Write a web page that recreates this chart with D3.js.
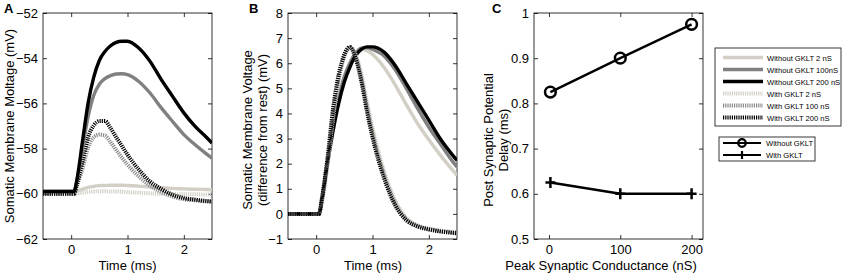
<!DOCTYPE html>
<html>
<head>
<meta charset="utf-8">
<script src="https://cdn.jsdelivr.net/npm/d3@7"></script>
<style>
  body { margin: 0; background: #fff; }
  svg { font-family: "Liberation Sans", Arial, sans-serif; }
  .tick text { font-size: 13px; fill: #000; }
  .tick line { stroke: #000; stroke-width: 0.8; }
  .domain { display: none; }
  .frame { fill: none; stroke: #000; stroke-width: 0.8; }
  .lbl { font-size: 13px; fill: #000; }
  .leg { font-size: 7.6px; fill: #000; }
</style>
</head>
<body>
<div id="chart"></div>
<script>

// time samples (ms), shared by panels A and B
var times = [-0.5, 0, 0.05, 0.1, 0.2, 0.3, 0.4, 0.5, 0.6, 0.7, 0.8, 0.9, 1.0, 1.2, 1.4, 1.6, 1.8, 2.0, 2.2, 2.4, 2.5];

// panel A - somatic membrane voltage (mV)
var aWithout2   = [-59.9, -59.9, -59.9, -59.88, -59.8, -59.72, -59.67, -59.64, -59.63, -59.62, -59.62, -59.62, -59.63, -59.66, -59.7, -59.73, -59.76, -59.78, -59.8, -59.81, -59.82];
var aWithout100 = [-59.9, -59.9, -59.9, -59.45, -58.0, -56.6, -55.65, -55.15, -54.9, -54.77, -54.7, -54.69, -54.73, -55.03, -55.54, -56.2, -56.8, -57.38, -57.83, -58.23, -58.42];
var aWithout200 = [-59.9, -59.9, -59.9, -59.4, -57.7, -56.0, -54.85, -54.1, -53.7, -53.45, -53.3, -53.25, -53.25, -53.55, -54.14, -54.95, -55.69, -56.42, -57.02, -57.5, -57.75];
var aWith2      = [-60, -60, -60, -59.99, -59.95, -59.92, -59.9, -59.89, -59.89, -59.9, -59.9, -59.91, -59.93, -59.95, -59.98, -60.0, -60.01, -60.02, -60.02, -60.03, -60.03];
var aWith100    = [-60, -60, -60, -59.65, -58.9, -57.95, -57.5, -57.38, -57.42, -57.72, -58.06, -58.4, -58.71, -59.23, -59.64, -59.92, -60.12, -60.24, -60.29, -60.34, -60.35];
var aWith200    = [-60, -60, -60, -59.6, -58.6, -57.5, -56.98, -56.78, -56.78, -57.1, -57.5, -57.88, -58.27, -58.93, -59.45, -59.79, -60.04, -60.19, -60.26, -60.32, -60.34];

// panel B - difference from rest (mV)
var bWithout2   = [0, 0, 0, 0.6, 2.2, 3.6, 4.7, 5.5, 6.05, 6.4, 6.55, 6.5, 6.35, 5.85, 5.15, 4.35, 3.6, 2.95, 2.35, 1.8, 1.53];
var bWithout100 = [0, 0, 0, 0.55, 2.1, 3.5, 4.6, 5.45, 6.0, 6.4, 6.6, 6.62, 6.55, 6.3, 5.75, 5.0, 4.2, 3.45, 2.8, 2.15, 1.87];
var bWithout200 = [0, 0, 0, 0.5, 2.0, 3.3, 4.4, 5.25, 5.85, 6.3, 6.55, 6.65, 6.65, 6.45, 5.92, 5.19, 4.46, 3.73, 3.0, 2.4, 2.13];
var bWith2      = [0, 0, 0, 0.45, 1.9, 3.8, 5.3, 6.25, 6.6, 6.35, 5.6, 4.5, 3.45, 1.75, 0.55, -0.15, -0.45, -0.58, -0.66, -0.71, -0.73];
var bWith100    = [0, 0, 0, 0.5, 2.0, 3.95, 5.4, 6.3, 6.62, 6.3, 5.45, 4.3, 3.25, 1.6, 0.45, -0.2, -0.48, -0.6, -0.68, -0.73, -0.75];
var bWith200    = [0, 0, 0, 0.6, 2.2, 4.2, 5.55, 6.35, 6.65, 6.2, 5.3, 4.1, 3.05, 1.45, 0.35, -0.25, -0.5, -0.62, -0.7, -0.75, -0.77];

// panel C - delay vs conductance
var conductance  = [2, 100, 200];
var delayWithout = [0.825, 0.9, 0.975];
var delayWith    = [0.625, 0.6, 0.6];

var seriesNames = ["Without GKLT 2 nS", "Without GKLT 100nS", "Without GKLT 200 nS",
                   "With GKLT 2 nS", "With GKLT 100 nS", "With GKLT 200 nS"];
var seriesColors = ["#d3cfc7", "#808080", "#000000", "#d3cfc7", "#8a8a8a", "#000000"];
var seriesDotted = [false, false, false, true, true, true];
var delayNames = ["Without GKLT", "With GKLT"];

var timeTicks = [0, 1, 2];
var aTicks = [-62, -60, -58, -56, -54, -52];
var bTicks = [-1, 0, 1, 2, 3, 4, 5, 6, 7, 8];
var cTicksX = [0, 100, 200];
var cTicksY = [0.5, 0.6, 0.7, 0.8, 0.9, 1];

var W = 843, H = 274;
var plotTop = 13, plotBottom = 239;

var svg = d3.select("#chart").append("svg")
    .attr("width", W)
    .attr("height", H);

function styleLine(sel, i) {
    sel.attr("fill", "none")
        .attr("stroke", seriesColors[i])
        .attr("stroke-width", seriesDotted[i] ? 4 : 3.4);
    if (seriesDotted[i]) sel.attr("stroke-dasharray", "1.2,1");
}

// draws frame + inward ticks on all four sides
function panel(id, left, right, x, y, xt, yt, yfmt) {
    var g = svg.append("g");
    g.append("clipPath").attr("id", id)
        .append("rect")
        .attr("x", left).attr("y", plotTop)
        .attr("width", right - left).attr("height", plotBottom - plotTop);

    g.append("g")
        .attr("transform", "translate(0," + plotBottom + ")")
        .call(d3.axisBottom(x).tickValues(xt).tickSize(-4).tickSizeOuter(0).tickPadding(6).tickFormat(d3.format("")));
    g.append("g")
        .attr("transform", "translate(0," + plotTop + ")")
        .call(d3.axisTop(x).tickValues(xt).tickSize(-4).tickSizeOuter(0).tickFormat(""));
    g.append("g")
        .attr("transform", "translate(" + left + ",0)")
        .call(d3.axisLeft(y).tickValues(yt).tickSize(-4).tickSizeOuter(0).tickPadding(5).tickFormat(yfmt));
    g.append("g")
        .attr("transform", "translate(" + right + ",0)")
        .call(d3.axisRight(y).tickValues(yt).tickSize(-4).tickSizeOuter(0).tickFormat(""));

    g.append("rect").attr("class", "frame")
        .attr("x", left).attr("y", plotTop)
        .attr("width", right - left).attr("height", plotBottom - plotTop);
    return g;
}

// ---- Panel A
var xA = d3.scaleLinear().domain([-0.5, 2.5]).range([43, 212]);
var yA = d3.scaleLinear().domain([-62, -52]).range([plotBottom, plotTop]);
var gA = panel("clipA", 43, 212, xA, yA, timeTicks, aTicks, d3.format(""));

var aSeries = [aWithout2, aWithout100, aWithout200, aWith2, aWith100, aWith200];
var lineA = d3.line().x(function(d, i) { return xA(times[i]); }).y(function(d) { return yA(d); })
    .curve(d3.curveMonotoneX);
var drawOrder = [0, 3, 4, 5, 1, 2];
drawOrder.forEach(function(i) {
    gA.append("path").datum(aSeries[i]).attr("d", lineA)
        .attr("clip-path", "url(#clipA)").call(styleLine, i);
});

// ---- Panel B
var xB = d3.scaleLinear().domain([-0.5, 2.5]).range([288, 457]);
var yB = d3.scaleLinear().domain([-1, 8]).range([plotBottom, plotTop]);
var gB = panel("clipB", 288, 457, xB, yB, timeTicks, bTicks, d3.format(""));

var bSeries = [bWithout2, bWithout100, bWithout200, bWith2, bWith100, bWith200];
var lineB = d3.line().x(function(d, i) { return xB(times[i]); }).y(function(d) { return yB(d); })
    .curve(d3.curveMonotoneX);
[0, 1, 2, 3, 4, 5].forEach(function(i) {
    gB.append("path").datum(bSeries[i]).attr("d", lineB)
        .attr("clip-path", "url(#clipB)").call(styleLine, i);
});

// ---- Panel C
var xC = d3.scaleLinear().domain([-21, 216]).range([534, 703]);
var yC = d3.scaleLinear().domain([0.5, 1]).range([plotBottom, plotTop]);
var gC = panel("clipC", 534, 703, xC, yC, cTicksX, cTicksY, d3.format(""));

var lineC = d3.line().x(function(d, i) { return xC(conductance[i]); }).y(function(d) { return yC(d); });
[delayWithout, delayWith].forEach(function(arr, k) {
    gC.append("path").datum(arr).attr("d", lineC)
        .attr("fill", "none").attr("stroke", "#000").attr("stroke-width", 2.4);
    gC.selectAll(null).data(arr).enter().append("path")
        .attr("transform", function(d, i) { return "translate(" + xC(conductance[i]) + "," + yC(d) + ")"; })
        .attr("d", k === 0 ? d3.symbol().type(d3.symbolCircle).size(90)() : "M-5,0H5M0,-5.5V5.5")
        .attr("fill", "none").attr("stroke", "#000").attr("stroke-width", 2.5);
});

// legends
var leg1 = svg.append("g");
leg1.append("rect").attr("x", 715).attr("y", 48).attr("width", 126).attr("height", 78)
    .attr("fill", "#fff").attr("stroke", "#222").attr("stroke-width", 0.9);
seriesNames.forEach(function(name, i) {
    var yy = 57.5 + i * 12;
    leg1.append("line").attr("x1", 723).attr("x2", 763).attr("y1", yy).attr("y2", yy).call(styleLine, i);
    leg1.append("text").attr("class", "leg").attr("x", 767).attr("y", yy + 3).text(name);
});

var leg2 = svg.append("g");
leg2.append("rect").attr("x", 719).attr("y", 137).attr("width", 96).attr("height", 24)
    .attr("fill", "#fff").attr("stroke", "#222").attr("stroke-width", 0.9);
delayNames.forEach(function(name, k) {
    var yy = 143 + k * 12;
    leg2.append("line").attr("x1", 723).attr("x2", 761).attr("y1", yy).attr("y2", yy)
        .attr("stroke", "#000").attr("stroke-width", 2.2);
    leg2.append("path").attr("transform", "translate(742," + yy + ")")
        .attr("d", k === 0 ? d3.symbol().type(d3.symbolCircle).size(45)() : "M0,-4V4")
        .attr("fill", "none").attr("stroke", "#000").attr("stroke-width", 2.2);
    leg2.append("text").attr("class", "leg").attr("x", 766).attr("y", yy + 3).text(name);
});

// axis titles and panel letters
function label(x, y, txt, rot) {
    svg.append("text").attr("class", "lbl")
        .attr("text-anchor", "middle")
        .attr("transform", "translate(" + x + "," + y + ")" + (rot ? " rotate(-90)" : ""))
        .text(txt);
}
label(127.5, 270, "Time (ms)");
label(373, 270, "Time (ms)");
label(601, 270, "Peak Synaptic Conductance (nS)");
label(14, 126, "Somatic Membrane Moltage (mV)", true);
label(251.5, 130, "Somatic Membrane Voltage", true);
label(267, 130, "(difference from rest) (mV)", true);
label(492.5, 140, "Post Synaptic Potential", true);
label(508, 140, "Delay (ms)", true);

[["A", 4], ["B", 249], ["C", 492]].forEach(function(p) {
    svg.append("text").attr("x", p[1]).attr("y", 13)
        .attr("font-size", 13).attr("font-weight", "bold").text(p[0]);
});
</script>
</body>
</html>
